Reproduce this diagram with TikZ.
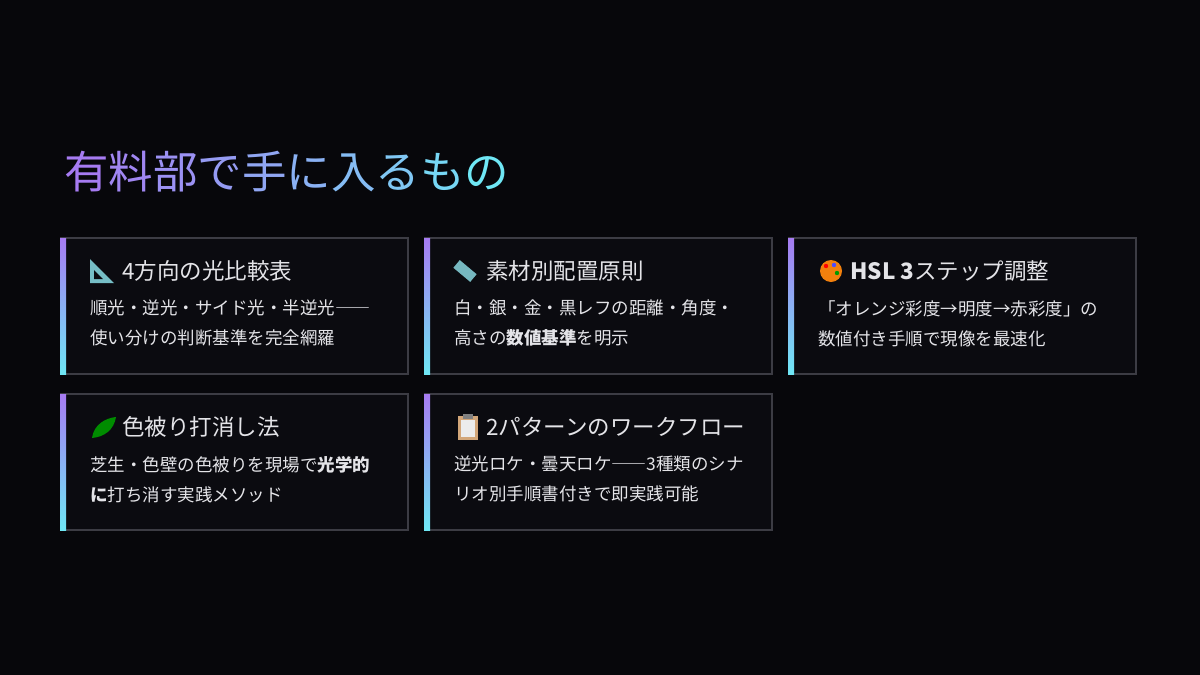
\documentclass[tikz,border=0pt]{standalone}
\usepackage{fontspec}
\setmainfont{Noto Sans CJK JP}
\usetikzlibrary{positioning}
\definecolor{pagebg}{HTML}{07070B}
\definecolor{cardbg}{HTML}{0B0B10}
\definecolor{cardline}{HTML}{3C3C44}
\definecolor{violet}{HTML}{A67BF2}
\definecolor{aqua}{HTML}{6FE7F5}
\definecolor{bodytext}{HTML}{E4E4E8}
\newcommand{\gc}[2]{\textcolor{aqua!#1!violet}{#2}}

\begin{document}
\begin{tikzpicture}[
    x=1pt, y=-1pt,
    card/.style={draw=cardline, line width=1.2pt, fill=cardbg},
    cardhead/.style={anchor=west, text=bodytext, font=\fontsize{22.5}{26}\selectfont, inner sep=0pt},
    cardbody/.style={anchor=north west, text=bodytext, font=\fontsize{17.5}{30}\selectfont, align=left, inner sep=0pt},
    icon/.style={line width=0.8pt}
]
    \fill[pagebg] (0,0) rectangle (1200,675);
    \node[anchor=west, inner sep=0pt, font=\fontsize{44.5}{50}\selectfont] (title) at (64,172)
        {\gc{0}{有}\gc{10}{料}\gc{20}{部}\gc{30}{で}\gc{40}{手}\gc{50}{に}\gc{60}{入}\gc{70}{る}\gc{85}{も}\gc{100}{の}};

    % cards
    \foreach \cx/\cy [count=\k] in {61/238, 425/238, 789/238, 61/394, 425/394} {
        \draw[card] (\cx,\cy) rectangle ++(347,136);
        \shade[top color=violet, bottom color=aqua] (\cx-1,\cy) rectangle ++(6,136);
        \coordinate (c\k) at (\cx,\cy);
    }

    % icons
    \fill[aqua!60!gray] (90,259) -- (90,283) -- (114,283) -- cycle;
    \fill[cardbg] (94,270) -- (94,279) -- (103,279) -- cycle;
    \fill[aqua!55!gray, rotate around={-40:(465,271)}] (454,266) rectangle (476,276);
    \fill[orange!80!brown] (831,271) circle (11);
    \fill[red] (826,266) circle (2.2); \fill[blue!70] (834,265) circle (2.2); \fill[green!60!black] (837,273) circle (2.2);
    \fill[green!55!black] (92,438) .. controls (94,424) and (106,418) .. (116,417) .. controls (114,430) and (104,437) .. (92,438) -- cycle;
    \fill[brown!70] (458,416) rectangle (478,440);
    \fill[white!85!gray] (461,420) rectangle (475,437);
    \fill[gray] (463,414) rectangle (473,419);

    % headings
    \node[cardhead] (h1) at (122,271) {4方向の光比較表};
    \node[cardhead] (h2) at (486,271) {素材別配置原則};
    \node[cardhead] (h3) at (850,271) {\textbf{HSL 3}ステップ調整};
    \node[cardhead] (h4) at (122,427) {色被り打消し法};
    \node[cardhead] (h5) at (486,427) {2パターンのワークフロー};

    % bodies
    \node[cardbody] (b1) at (90,300) {順光・逆光・サイド光・半逆光――\\使い分けの判断基準を完全網羅};
    \node[cardbody] (b2) at (454,300) {白・銀・金・黒レフの距離・角度・\\高さの\textbf{数値基準}を明示};
    \node[cardbody] (b3) at (818,300) {「オレンジ彩度→明度→赤彩度」の\\数値付き手順で現像を最速化};
    \node[cardbody] (b4) at (90,456) {芝生・色壁の色被りを現場で\textbf{光学的}\\\textbf{に}打ち消す実践メソッド};
    \node[cardbody] (b5) at (454,456) {逆光ロケ・曇天ロケ――3種類のシナ\\リオ別手順書付きで即実践可能};
\end{tikzpicture}
\end{document}
